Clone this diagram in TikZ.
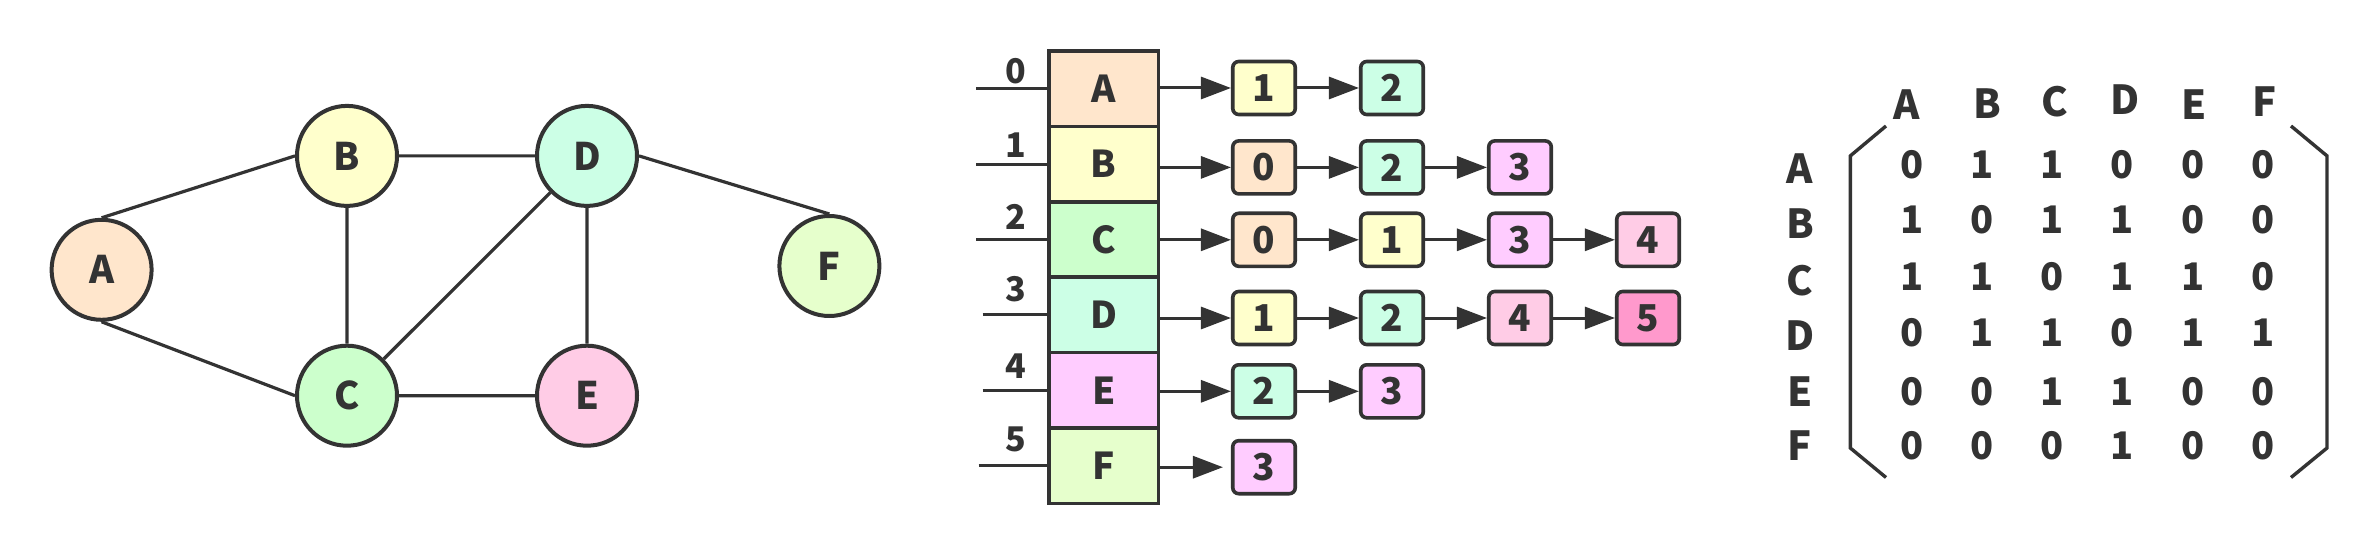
\documentclass[tikz,border=0pt]{standalone}
\usepackage{fontspec}
\setmainfont{Noto Sans CJK SC}
\usetikzlibrary{arrows.meta,positioning}

\definecolor{lnc}{HTML}{333333}
\definecolor{cA}{HTML}{FFE6CC}
\definecolor{cB}{HTML}{FFFFCC}
\definecolor{cC}{HTML}{CCFFCC}
\definecolor{cD}{HTML}{CCFFE6}
\definecolor{cE}{HTML}{FFCCE6}
\definecolor{cF}{HTML}{E6FFCC}
\definecolor{cV}{HTML}{FFCCFF}
\definecolor{cP}{HTML}{FF99CC}
\colorlet{k0}{cA}
\colorlet{k1}{cB}
\colorlet{k2}{cD}
\colorlet{k3}{cV}
\colorlet{k4}{cE}
\colorlet{k5}{cP}

\tikzset{
  vtx/.style={circle,draw=lnc,line width=4pt,minimum size=100pt,inner sep=0pt,text=lnc,
    font=\fontsize{38}{38}\selectfont\bfseries},
  edge/.style={draw=lnc,line width=3.2pt},
  cell/.style={rectangle,draw=lnc,line width=3.6pt,minimum width=109.4pt,minimum height=75.4pt,
    inner sep=0pt,outer sep=0pt,text=lnc,font=\fontsize{37}{37}\selectfont\bfseries},
  item/.style={rectangle,rounded corners=6pt,draw=lnc,line width=3.6pt,minimum width=62.5pt,
    minimum height=53pt,inner sep=0pt,text=lnc,font=\fontsize{37}{37}\selectfont\bfseries},
  link/.style={draw=lnc,line width=3pt,-{Triangle[length=30pt,width=22pt]}},
  idx/.style={inner sep=0pt,text=lnc,font=\fontsize{34}{34}\selectfont\bfseries},
  hdr/.style={inner sep=0pt,text=lnc,font=\fontsize{40}{40}\selectfont\bfseries},
  ent/.style={inner sep=0pt,text=lnc,font=\fontsize{38}{38}\selectfont\bfseries},
  brk/.style={draw=lnc,line width=3.4pt},
}

\begin{document}
\begin{tikzpicture}[x=1pt,y=-1pt]
\useasboundingbox (0,0) rectangle (2376,556);

% graph
\node[vtx,fill=cA] (A) at (101.6,269.8) {A};
\node[vtx,fill=cB] (B) at (347,155.9) {B};
\node[vtx,fill=cC] (C) at (347,395.7) {C};
\node[vtx,fill=cD] (D) at (587,155.9) {D};
\node[vtx,fill=cE] (E) at (587,395.7) {E};
\node[vtx,fill=cF] (F) at (829.4,266) {F};

\draw[edge] (A.north)--(B.west) (A.south)--(C.west) (B)--(D) (B)--(C)
  (C)--(D) (C)--(E) (D)--(E) (D.east)--(F.north);

% head array
\foreach \n/\c [count=\i from 0] in {A/cA,B/cB,C/cC,D/cD,E/cV,F/cF}
  \node[cell,fill=\c] (r\i) at (1103.7,88.7+75.4*\i) {\n};

\foreach \i/\x in {0/976,1/976,2/976,3/982.5,4/982.5,5/978.7}{
  \coordinate (s\i) at (\x,0 |- r\i);
  \draw[edge,line width=3pt] (s\i)--(r\i.west);
}
\foreach \i/\y in {0/71,1/145,2/216.5,3/289.5,4/366.5,5/439.5}
  \node[idx] (n\i) at (1015.5,\y) {\i};

% lists
\foreach \d [count=\j] in {1,2}
  \node[item,fill=k\d] (l0\j) at (1136+128*\j,88) {\d};
\foreach \d [count=\j] in {0,2,3}
  \node[item,fill=k\d] (l1\j) at (1136+128*\j,167.4) {\d};
\foreach \d [count=\j] in {0,1,3,4}
  \node[item,fill=k\d] (l2\j) at (1136+128*\j,239.8) {\d};
\foreach \d [count=\j] in {1,2,4,5}
  \node[item,fill=k\d] (l3\j) at (1136+128*\j,318) {\d};
\foreach \d [count=\j] in {2,3}
  \node[item,fill=k\d] (l4\j) at (1136+128*\j,391.3) {\d};
\node[item,fill=k3] (l51) at (1264,467.2) {3};

\foreach \i in {0,...,4}
  \draw[link] (r\i.east |- l\i1)--(l\i1);
\draw[link,shorten >=8pt] (r5.east |- l51)--(l51);
\foreach \a/\b in {01/02,11/12,12/13,21/22,22/23,23/24,31/32,32/33,33/34,41/42}
  \draw[link] (l\a)--(l\b);

% matrix
\foreach \h/\x/\y in {A/1907/105,B/1987.5/103.4,C/2054.5/101.8,D/2125/100,E/2194/105,F/2265/102}
  \node[hdr] (c\h) at (\x,\y) {\h};
\foreach \h/\y in {A/168.6,B/223.7,C/280.4,D/335.6,E/392,F/445.8}
  \node[hdr] (w\h) at (1800,\y) {\h};

\foreach \v [count=\j] in {0,1,1,0,0,0}
  \node[ent] (mA\j) at (1841.3+70.3*\j,165) {\v};
\foreach \v [count=\j] in {1,0,1,1,0,0}
  \node[ent] (mB\j) at (1841.3+70.3*\j,219.7) {\v};
\foreach \v [count=\j] in {1,1,0,1,1,0}
  \node[ent] (mC\j) at (1841.3+70.3*\j,276.4) {\v};
\foreach \v [count=\j] in {0,1,1,0,1,1}
  \node[ent] (mD\j) at (1841.3+70.3*\j,333) {\v};
\foreach \v [count=\j] in {0,0,1,1,0,0}
  \node[ent] (mE\j) at (1841.3+70.3*\j,391.7) {\v};
\foreach \v [count=\j] in {0,0,0,1,0,0}
  \node[ent] (mF\j) at (1841.3+70.3*\j,445.8) {\v};

\draw[brk] (1886,126)--(1850.3,155.9)--(1850.3,448)--(1886,477.5);
\draw[brk] (2291,126)--(2327,155.9)--(2327,448)--(2291,477.5);
\end{tikzpicture}
\end{document}
